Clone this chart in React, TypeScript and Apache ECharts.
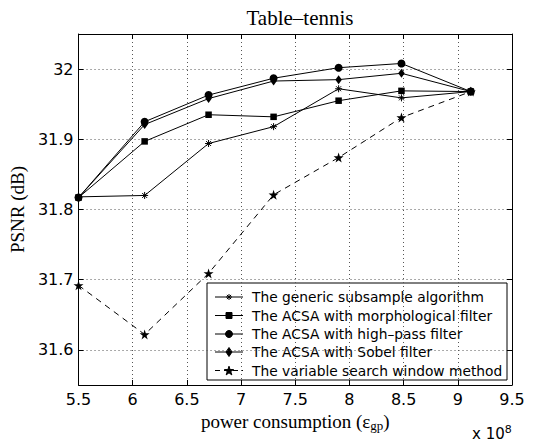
import React, { useEffect, useRef } from "react";
import * as echarts from "echarts";

const xValues = [5.5, 6.11, 6.7, 7.3, 7.9, 8.48, 9.12];
const generic = [31.818, 31.82, 31.894, 31.918, 31.972, 31.959, 31.968];
const morph = [31.817, 31.897, 31.935, 31.932, 31.955, 31.969, 31.968];
const highpass = [31.817, 31.925, 31.963, 31.987, 32.002, 32.008, 31.968];
const sobel = [31.817, 31.921, 31.958, 31.983, 31.985, 31.994, 31.968];
const vsw = [31.692, 31.622, 31.709, 31.821, 31.874, 31.931, 31.968];
const yTicks = [31.6, 31.7, 31.8, 31.9, 32];
const seriesNames = [
  "The generic subsample algorithm",
  "The ACSA with morphological filter",
  "The ACSA with high\u2013pass filter",
  "The ACSA with Sobel filter",
  "The variable search window method",
];

const ASTERISK = "path://M0,-1L0,1M-1,0L1,0M-0.7,-0.7L0.7,0.7M-0.7,0.7L0.7,-0.7";
const STAR =
  "path://M0,-1L0.2245,-0.309L0.951,-0.309L0.363,0.118L0.588,0.809L0,0.382L-0.588,0.809L-0.363,0.118L-0.951,-0.309L-0.2245,-0.309Z";

const sans = "'DejaVu Sans', sans-serif";
const serif = "'Liberation Serif', 'Times New Roman', serif";

function starPoints(cx: number, cy: number, r: number): number[][] {
  const pts: number[][] = [];
  for (let i = 0; i < 10; i++) {
    const a = -Math.PI / 2 + (i * Math.PI) / 5;
    const rr = i % 2 === 0 ? r : r * 0.382;
    pts.push([cx + rr * Math.cos(a), cy + rr * Math.sin(a)]);
  }
  return pts;
}

function legendSymbol(kind: string, cx: number, cy: number): any[] {
  const st = { fill: "#000", stroke: "#000", lineWidth: 1 };
  if (kind === "asterisk") {
    const r = 3;
    const d = 2.1;
    return [
      { type: "line", shape: { x1: cx, y1: cy - r, x2: cx, y2: cy + r }, style: { stroke: "#000", lineWidth: 1 } },
      { type: "line", shape: { x1: cx - r, y1: cy, x2: cx + r, y2: cy }, style: { stroke: "#000", lineWidth: 1 } },
      { type: "line", shape: { x1: cx - d, y1: cy - d, x2: cx + d, y2: cy + d }, style: { stroke: "#000", lineWidth: 1 } },
      { type: "line", shape: { x1: cx - d, y1: cy + d, x2: cx + d, y2: cy - d }, style: { stroke: "#000", lineWidth: 1 } },
    ];
  }
  if (kind === "rect") return [{ type: "rect", shape: { x: cx - 3, y: cy - 3, width: 6, height: 6 }, style: st }];
  if (kind === "circle") return [{ type: "circle", shape: { cx, cy, r: 3.5 }, style: st }];
  if (kind === "diamond")
    return [{ type: "polygon", shape: { points: [[cx, cy - 4.5], [cx + 3, cy], [cx, cy + 4.5], [cx - 3, cy]] }, style: st }];
  return [{ type: "polygon", shape: { points: starPoints(cx, cy + 0.5, 4.8) }, style: st }];
}

const legendKinds = ["asterisk", "rect", "circle", "diamond", "star"];

export default function App() {
  const ref = useRef<HTMLDivElement>(null);
  useEffect(() => {
    document.body.style.margin = "0";
    const chart = echarts.init(ref.current!, null, { renderer: "svg" });
    const mk = (vals: number[]) => xValues.map((x, i) => [x, vals[i]]);
    const base = (name: string, vals: number[], symbol: string, size: number | number[], extra: any = {}) => ({
      type: "line",
      name,
      data: mk(vals),
      symbol,
      symbolSize: size,
      showSymbol: true,
      lineStyle: { color: "#000", width: 1, ...(extra.lineStyle || {}) },
      itemStyle: { color: "#000", ...(extra.itemStyle || {}) },
      emphasis: { disabled: true },
    });

    // legend box drawn by hand
    const lx = 207, ly = 283, lw = 300, lh = 97;
    const rowY = [297, 315.5, 334, 352, 370.5];
    const legendEls: any[] = [
      { type: "rect", shape: { x: lx, y: ly, width: lw, height: lh }, style: { fill: "#fff", stroke: "#000", lineWidth: 1 } },
    ];
    seriesNames.forEach((n, i) => {
      const y = rowY[i];
      legendEls.push({
        type: "line",
        shape: { x1: 215, y1: y, x2: 243, y2: y },
        style: { stroke: "#000", lineWidth: 1, lineDash: i === 4 ? [5, 4] : null },
      });
      legendEls.push(...legendSymbol(legendKinds[i], 229, y));
      legendEls.push({
        type: "text",
        x: 252,
        y,
        style: { text: n, fontFamily: sans, fontSize: 13.8, fill: "#000", verticalAlign: "middle", align: "left" },
      });
    });

    chart.setOption({
      animation: false,
      backgroundColor: "#fff",
      title: {
        text: "Table\u2013tennis",
        left: 295,
        textAlign: "center",
        top: 2,
        textStyle: { fontFamily: serif, fontSize: 21, fontWeight: "normal", color: "#000" },
      },
      grid: { left: 78, right: 26, top: 34, bottom: 60 },
      xAxis: [
        {
          type: "value",
          min: 5.5,
          max: 9.5,
          interval: 0.5,
          name: "power consumption (\u03b5{sub|gp})",
          nameLocation: "middle",
          nameGap: 16,
          nameTextStyle: {
            fontFamily: serif,
            fontSize: 19,
            color: "#000",
            rich: { sub: { fontFamily: serif, fontSize: 13, verticalAlign: "bottom", padding: [9, 0, 0, 0], color: "#000" } },
          },
          axisLine: { lineStyle: { color: "#000", width: 1 } },
          axisTick: { inside: true, length: 5, lineStyle: { color: "#000" } },
          axisLabel: { fontFamily: sans, fontSize: 16, color: "#000", margin: 6 },
          splitLine: { show: true, lineStyle: { color: "#555", type: [1, 3], width: 1 } },
        },
        {
          type: "value",
          position: "top",
          min: 5.5,
          max: 9.5,
          interval: 0.5,
          axisLine: { show: true, lineStyle: { color: "#000", width: 1 } },
          axisTick: { show: true, inside: true, length: 5, lineStyle: { color: "#000" } },
          axisLabel: { show: false },
          splitLine: { show: false },
        },
      ],
      yAxis: [
        {
          type: "value",
          min: 31.55,
          max: 32.05,
          name: "PSNR (dB)",
          nameLocation: "middle",
          nameGap: 50,
          nameTextStyle: { fontFamily: serif, fontSize: 19, color: "#000" },
          axisLine: { show: true, lineStyle: { color: "#000", width: 1 } },
          axisTick: { show: true, inside: true, length: 5, customValues: yTicks, lineStyle: { color: "#000" } },
          axisLabel: { fontFamily: sans, fontSize: 16, color: "#000", margin: 5, customValues: yTicks },
          splitLine: { show: true, lineStyle: { color: "#555", type: [1, 3], width: 1 } },
        },
        {
          type: "value",
          position: "right",
          min: 31.55,
          max: 32.05,
          axisLine: { show: true, lineStyle: { color: "#000", width: 1 } },
          axisTick: { show: true, inside: true, length: 5, customValues: yTicks, lineStyle: { color: "#000" } },
          axisLabel: { show: false, customValues: yTicks },
          splitLine: { show: false },
        },
      ],
      graphic: [
        { type: "group", z: 100, children: legendEls },
        {
          type: "text",
          x: 472,
          y: 424,
          z: 100,
          style: {
            text: "x 10{sup|8}",
            fontFamily: sans,
            fontSize: 15,
            fill: "#000",
            rich: { sup: { fontFamily: sans, fontSize: 11, verticalAlign: "top", padding: [0, 0, 8, 0] } },
          },
        },
      ],
      series: [
        base(seriesNames[0], generic, ASTERISK, 7, { itemStyle: { borderColor: "#000", borderWidth: 1 } }),
        base(seriesNames[1], morph, "rect", 6.5),
        base(seriesNames[2], highpass, "circle", 8),
        base(seriesNames[3], sobel, "diamond", [6.5, 9]),
        base(seriesNames[4], vsw, STAR, 10, { lineStyle: { type: [6, 5] } }),
      ],
    });
    return () => chart.dispose();
  }, []);
  return <div ref={ref} style={{ width: 538, height: 445 }} />;
}
